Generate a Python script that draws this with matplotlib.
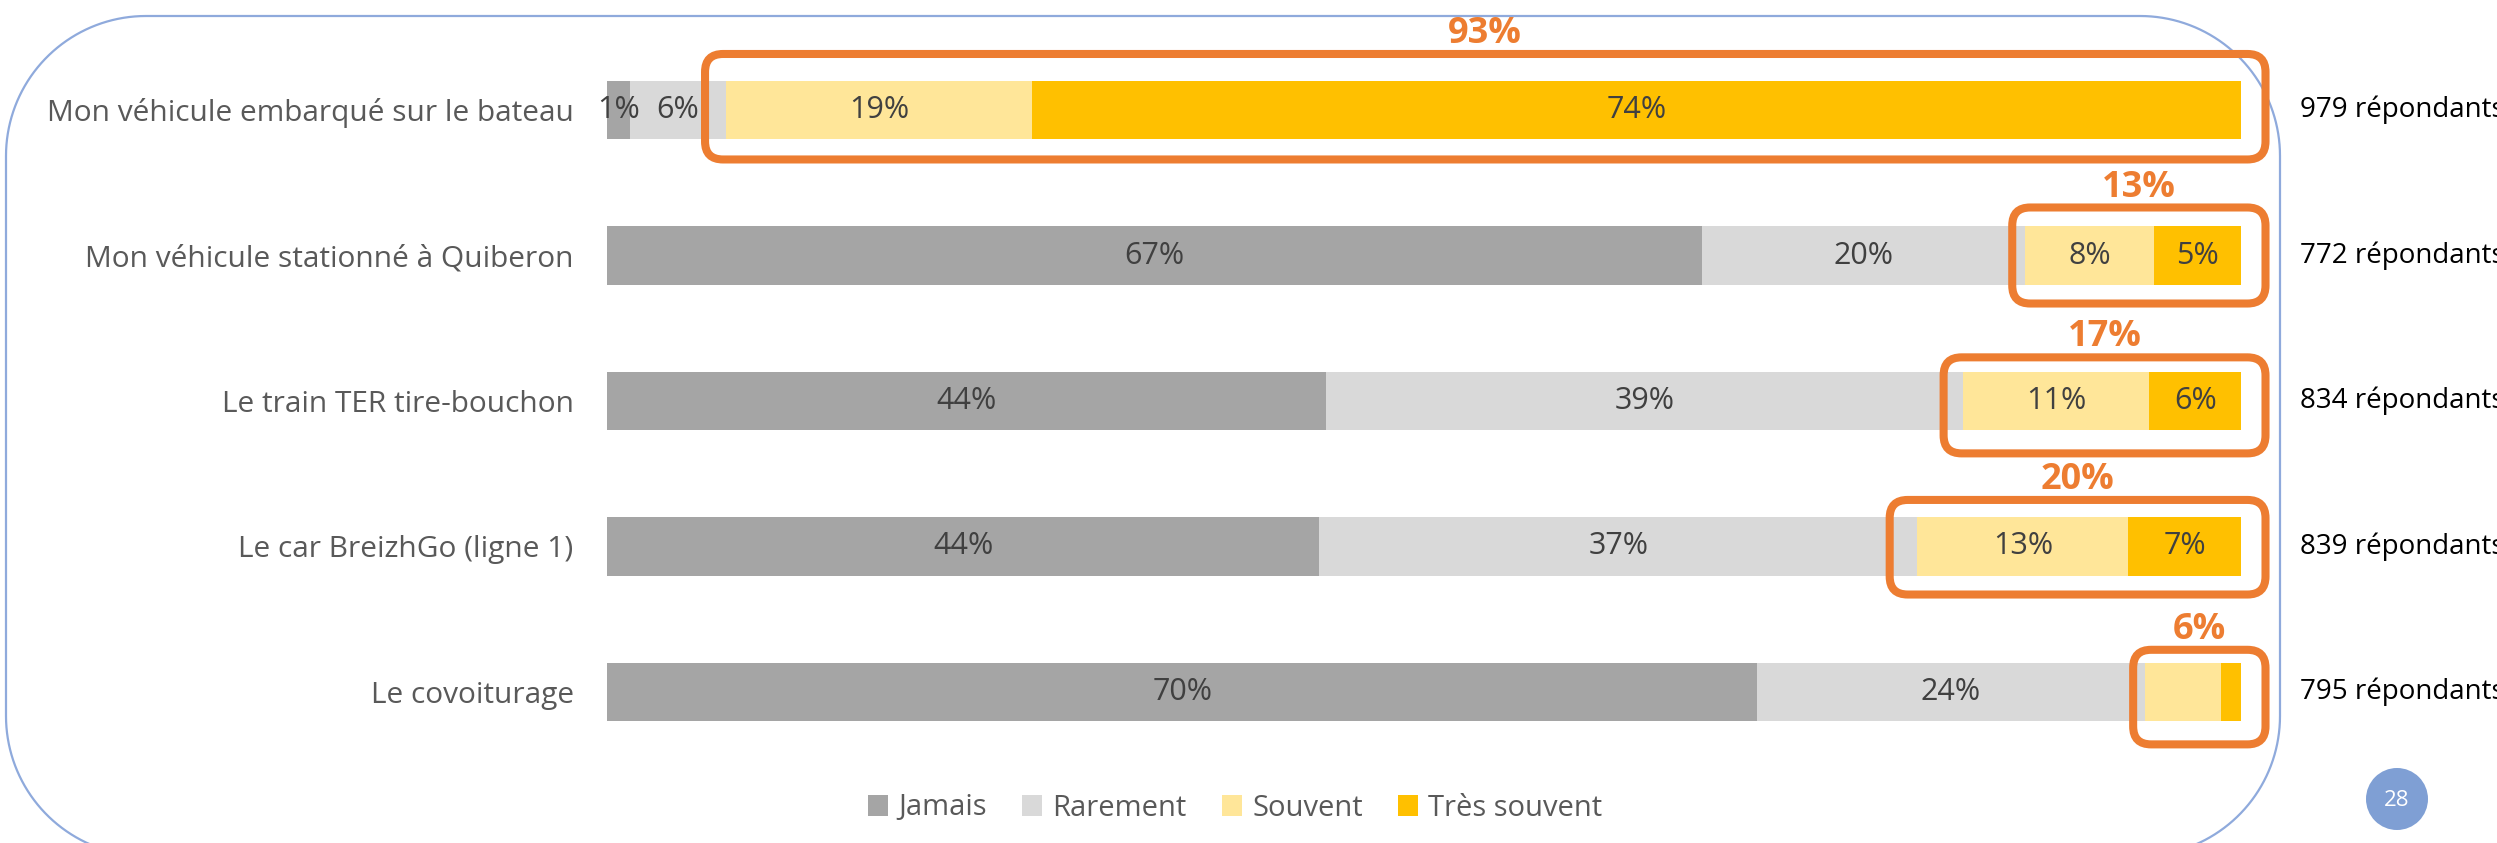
import matplotlib
matplotlib.use("Agg")
import matplotlib.pyplot as plt
from matplotlib.patches import FancyBboxPatch, Patch, Circle, Polygon
import numpy as np

plt.rcParams['font.family'] = ['Open Sans', 'DejaVu Sans']

categories = ['Mon véhicule embarqué sur le bateau',
              'Mon véhicule stationné à Quiberon',
              'Le train TER tire-bouchon',
              'Le car BreizhGo (ligne 1)',
              'Le covoiturage']
series = ['Jamais', 'Rarement', 'Souvent', 'Très souvent']
jamais = [1.4, 67.0, 44.0, 43.6, 70.4]
rarement = [5.9, 19.8, 39.0, 36.6, 23.7]
souvent = [18.7, 7.9, 11.4, 12.9, 4.7]
tres_souvent = [74.0, 5.3, 5.6, 6.9, 1.2]
respondents = [979, 772, 834, 839, 795]
# labels hidden for the two thin segments of the last row
show_label = [[True, True, True, True, True],
              [True, True, True, True, True],
              [True, True, True, True, False],
              [True, True, True, True, False]]

colors = ['#A5A5A5', '#D9D9D9', '#FFE699', '#FFC000']
orange = '#ED7D31'
# the orange frames are hand drawn, so they sit a bit differently on each row
frame_top = [0.385, 0.33, 0.30, 0.32, 0.29]
frame_bottom = [0.34, 0.33, 0.36, 0.33, 0.36]
frame_left = [1.3, 0.8, 1.2, 1.7, 0.7]

W, H = 2497, 843
fig = plt.figure(figsize=(W / 100, H / 100), dpi=100)


def rounded_rect(x0, y0, x1, y1, r, n=40):
    # corner arcs in pixel space (y grows downward)
    pts = []
    corners = [(x1 - r, y0 + r, -90, 0), (x1 - r, y1 - r, 0, 90),
               (x0 + r, y1 - r, 90, 180), (x0 + r, y0 + r, 180, 270)]
    for cx, cy, a0, a1 in corners:
        t = np.radians(np.linspace(a0, a1, n))
        pts.append(np.column_stack([cx + r * np.cos(t), cy + r * np.sin(t)]))
    return np.vstack(pts)


# background layer in pixel units (slide frame + page number)
bg = fig.add_axes([0, 0, 1, 1], zorder=0)
bg.set_xlim(0, W)
bg.set_ylim(H, 0)
bg.axis('off')
bg.add_patch(Polygon(rounded_rect(6, 16, 2280, 856, 140), closed=True,
                     fc='none', ec='#8FAADC', lw=1.6))
bg.add_patch(Circle((2397, 799), 31, fc='#7F9FD4', ec='none'))
bg.text(2397, 800, '28', color='white', fontsize=16, ha='center', va='center')

# main chart axes: x 0..100 spans 607..2241 px, rows 145.5 px apart, first at 110 px
x0_px, x1_px = 607, 2241
row0, step = 110, 145.5
ax = fig.add_axes([x0_px / W, 0, (x1_px - x0_px) / W, 1], zorder=1)
ax.set_facecolor('none')
ax.set_xlim(0, 100)
ax.set_ylim((H - row0) / step, -row0 / step)

y = np.arange(len(categories))
data = [jamais, rarement, souvent, tres_souvent]
left = np.zeros(len(categories))
for k, vals in enumerate(data):
    bars = ax.barh(y, vals, left=left, height=0.4, color=colors[k], label=series[k])
    labels = [f"{v:.0f}%" if show_label[k][i] else '' for i, v in enumerate(vals)]
    ax.bar_label(bars, labels=labels, label_type='center', color='#404040', fontsize=22)
    left += np.array(vals)

ax.set_yticks(y)
ax.set_yticklabels(categories, fontsize=21.5, color='#595959')
ax.tick_params(axis='y', length=0, pad=24)
ax.set_xticks([])
for s in ax.spines.values():
    s.set_visible(False)

# orange highlight boxes around "Souvent + Très souvent"
px_x = (x1_px - x0_px) / 100.0
r = 18 / px_x
aspect = px_x / step
start = np.array(jamais) + np.array(rarement)
totals = np.array(souvent) + np.array(tres_souvent)
for i in range(len(categories)):
    bx0 = start[i] - frame_left[i]
    bx1 = 100 + 1.5
    by0 = i - frame_top[i]
    by1 = i + frame_bottom[i]
    box = FancyBboxPatch((bx0, by0), bx1 - bx0, by1 - by0,
                         boxstyle=f"round,pad=0,rounding_size={r}", mutation_aspect=aspect,
                         fc='none', ec=orange, lw=5.8, clip_on=False)
    ax.add_patch(box)
    ax.text((bx0 + bx1) / 2, by0 - 0.075, f"{totals[i]:.0f}%", color=orange, fontsize=26,
            fontweight='bold', ha='center', va='baseline')
    ax.text(100 + (2300 - x1_px) / px_x, i, f"{respondents[i]} répondants", color='black',
            fontsize=20, ha='left', va='center', clip_on=False)

handles = [Patch(fc=c, ec='none') for c in colors]
fig.legend(handles, series, loc='center', bbox_to_anchor=(1235 / W, 1 - 808 / H), ncol=4,
           frameon=False, fontsize=21, labelcolor='#595959', handlelength=0.7,
           handleheight=0.7, handletextpad=0.35, columnspacing=1.2)

fig.savefig('out.png', dpi=100)
